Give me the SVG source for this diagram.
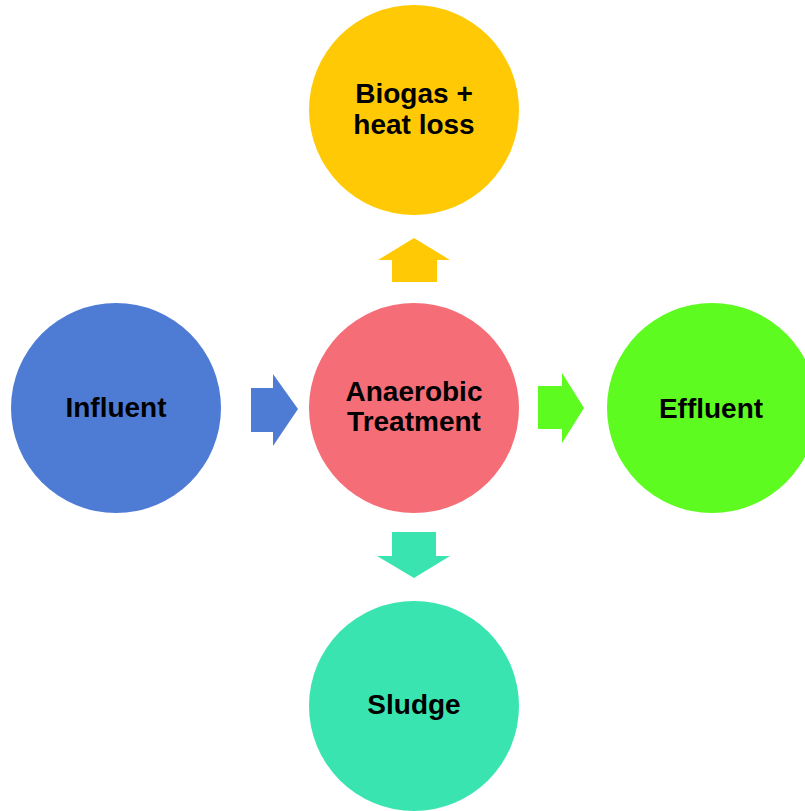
<svg xmlns="http://www.w3.org/2000/svg" width="805" height="811" viewBox="0 0 805 811">
<style>
text{font-family:"Liberation Sans",Arial,sans-serif;font-weight:bold;font-size:28px;fill:#000;text-anchor:middle}
.blue{fill:#4E7CD5}.yellow{fill:#FFCA05}.pink{fill:#F56E77}.green{fill:#5DFB1F}.teal{fill:#39E4B0}
</style>
<rect width="805" height="811" fill="#FFFFFF"/>
<g id="connectors">
<polygon class="blue" points="251,388 273,388 273,374 298,409 273,446 273,432 251,432"/>
<polygon class="yellow" points="392,282 392,260 378,260 414,238 450,260 437,260 437,282"/>
<polygon class="green" points="538,386 562,386 562,373 584,408 562,443 562,429 538,429"/>
<polygon class="teal" points="392,532 436,532 436,556 450,556 414,578 377,556 392,556"/>
</g>
<g id="biogas">
<circle class="yellow" cx="414" cy="110" r="105"/>
<text x="414" y="103">Biogas +</text>
<text x="414" y="134">heat loss</text>
</g>
<g id="influent">
<circle class="blue" cx="116" cy="408" r="105"/>
<text x="116" y="417">Influent</text>
</g>
<g id="anaerobic">
<circle class="pink" cx="414" cy="408" r="105"/>
<text x="414" y="401">Anaerobic</text>
<text x="414" y="431">Treatment</text>
</g>
<g id="effluent">
<circle class="green" cx="712" cy="408" r="105"/>
<text x="711" y="418">Effluent</text>
</g>
<g id="sludge">
<circle class="teal" cx="414" cy="706" r="105"/>
<text x="414" y="714">Sludge</text>
</g>
</svg>
